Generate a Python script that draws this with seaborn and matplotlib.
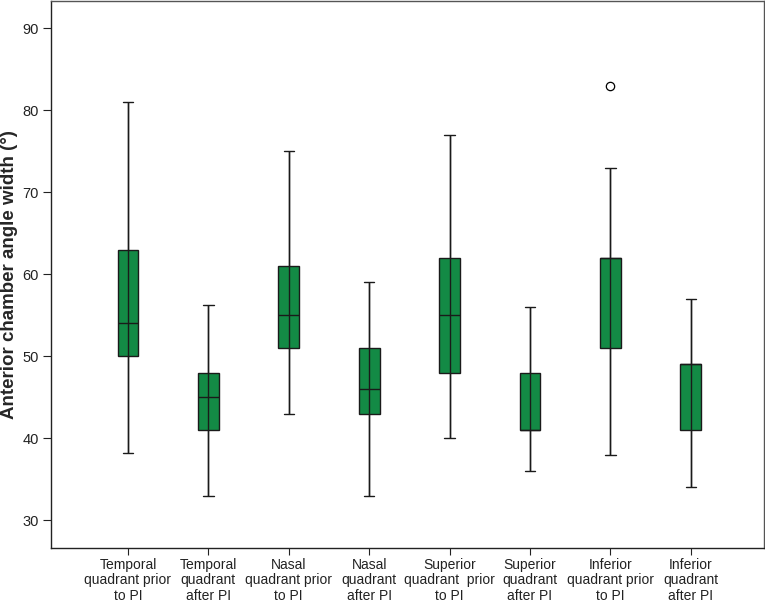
import numpy as np
import pandas as pd
import matplotlib
matplotlib.use("Agg")
import matplotlib.pyplot as plt
import seaborn as sns

categories = [
    "Temporal\nquadrant prior\nto PI",
    "Temporal\nquadrant\nafter PI",
    "Nasal\nquadrant prior\nto PI",
    "Nasal\nquadrant\nafter PI",
    "Superior\nquadrant  prior\nto PI",
    "Superior\nquadrant\nafter PI",
    "Inferior\nquadrant prior\nto PI",
    "Inferior\nquadrant\nafter PI",
]
lows = [38.2, 33, 43, 33, 40, 36, 38, 34]
q1s = [50, 41, 51, 43, 48, 41, 51, 41]
medians = [54, 45, 55, 46, 55, 41, 62, 49]
q3s = [63, 48, 61, 51, 62, 48, 62, 49]
highs = [81, 56.2, 75, 59, 77, 56, 73, 57]
outliers = [None, None, None, None, None, None, 83, None]

rows = []
for cat, lo, a, m, b, hi, out in zip(categories, lows, q1s, medians, q3s, highs, outliers):
    extra = hi if out is None else out
    for v in [lo, a, a, m, m, b, b, hi, extra]:
        rows.append((cat, v))
df = pd.DataFrame(rows, columns=["group", "value"])

sns.set_style("white")
plt.rcParams["font.family"] = ["Liberation Sans", "DejaVu Sans"]

fig = plt.figure(figsize=(7.65, 6.05), dpi=100)
ax = fig.add_axes([0.0667, 0.0942, 0.932, 0.9038])

green = "#138a45"
sns.boxplot(data=df, x="group", y="value", order=categories, color=green,
            saturation=1, width=0.26, linewidth=1.0, linecolor="#1a1a1a",
            whis=1.5, fliersize=6,
            flierprops=dict(marker="o", markerfacecolor="white",
                            markeredgecolor="black", markeredgewidth=0.9),
            ax=ax)
# whisker line passing through the box
ax.vlines(np.arange(len(categories)), lows, highs, colors="#1a1a1a",
          linewidth=1.0, zorder=3)

ax.set_xlim(-0.957, 7.91)
ax.set_ylim(26.6, 93.3)
ax.set_yticks([30, 40, 50, 60, 70, 80, 90])
ax.set_xlabel("")
ax.set_ylabel("Anterior chamber angle width (°)", fontsize=13.5,
              fontweight="bold", labelpad=3)
ax.tick_params(axis="y", labelsize=10.5, length=6, width=0.8, left=True,
               direction="out", colors="#222222", pad=3)
ax.tick_params(axis="x", labelsize=10, length=5, width=0.8, bottom=True,
               direction="out", colors="#222222", pad=2)
for lab in ax.get_xticklabels():
    lab.set_linespacing(1.15)
for side in ["left", "bottom"]:
    ax.spines[side].set_color("#222222")
    ax.spines[side].set_linewidth(1.0)
for side in ["top", "right"]:
    ax.spines[side].set_color("#555555")
    ax.spines[side].set_linewidth(1.0)

fig.savefig("out.png", dpi=100)
